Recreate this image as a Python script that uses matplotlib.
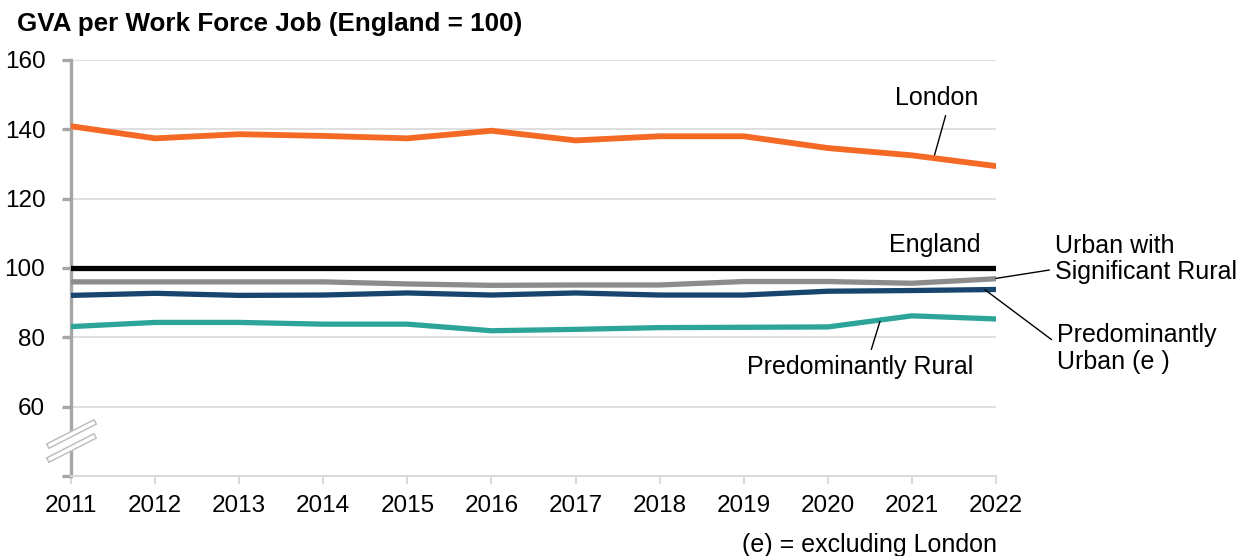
import matplotlib
matplotlib.use("Agg")
import matplotlib.pyplot as plt
import matplotlib.patheffects as pe
from matplotlib.patches import Polygon

plt.rcParams['font.family'] = ['Liberation Sans', 'DejaVu Sans']

# data
years = [2011, 2012, 2013, 2014, 2015, 2016, 2017, 2018, 2019, 2020, 2021, 2022]
london = [140.9, 137.4, 138.6, 138.1, 137.4, 139.6, 136.8, 138.0, 138.0, 134.6, 132.5, 129.4]
england = [100] * 12
urban_sig_rural = [96.0, 96.0, 96.0, 96.0, 95.4, 95.0, 95.1, 95.1, 96.1, 96.1, 95.6, 96.9]
pred_urban = [92.1, 92.7, 92.1, 92.2, 92.8, 92.2, 92.8, 92.2, 92.2, 93.3, 93.5, 93.8]
pred_rural = [83.1, 84.3, 84.3, 83.8, 83.8, 81.9, 82.3, 82.8, 82.9, 83.0, 86.2, 85.3]

y_ticks = [40, 60, 80, 100, 120, 140, 160]
y_labels = ['', '60', '80', '100', '120', '140', '160']

fig = plt.figure(figsize=(12.47, 5.56), dpi=100)
ax = fig.add_axes([71 / 1247, 80 / 556, 925 / 1247, 416 / 556])

grid_col = '#D9D9D9'
ax.plot(years, pred_rural, color='#2CA498', lw=3.8, solid_capstyle='round', zorder=3)
ax.plot(years, pred_urban, color='#17456E', lw=3.8, solid_capstyle='round', zorder=3)
ax.plot(years, urban_sig_rural, color='#8C8C8C', lw=3.8, solid_capstyle='round', zorder=3)
ax.plot(years, england, color='black', lw=3.8, solid_capstyle='round', zorder=4)
ax.plot(years, london, color='#F46A25', lw=4.2, solid_capstyle='round', zorder=4)

ax.set_xlim(2011, 2022)
ax.set_ylim(40, 160)
ax.set_xticks(years)
ax.set_xticklabels([str(y) for y in years])
ax.set_yticks(y_ticks)
ax.set_yticklabels(y_labels)
ax.grid(axis='y', color=grid_col, lw=1.2, zorder=0)
ax.set_axisbelow(True)

for s in ['top', 'right']:
    ax.spines[s].set_visible(False)
ax.spines['left'].set_color('#A6A6A6')
ax.spines['left'].set_linewidth(2.4)
ax.spines['bottom'].set_color(grid_col)
ax.spines['bottom'].set_linewidth(1.4)
ax.tick_params(axis='y', length=6.5, width=2.4, color='#A6A6A6', pad=12, labelsize=17.5)
ax.tick_params(axis='x', length=5.5, width=1.4, color=grid_col, pad=8, labelsize=17.5)

# axis break on the y axis
br = [(-0.0227, 0.0409), (0.0238, 0.0938), (0.0238, 0.1274), (-0.0227, 0.0745)]
ax.add_patch(Polygon(br, closed=True, transform=ax.transAxes, facecolor='white',
                     edgecolor='none', clip_on=False, zorder=5))
for (x0, y0), (x1, y1) in [((-0.0227, 0.0409), (0.0238, 0.0938)), ((-0.0227, 0.0745), (0.0238, 0.1274))]:
    ax.plot([x0, x1], [y0, y1], transform=ax.transAxes, color='white', lw=2.4,
            clip_on=False, zorder=6,
            path_effects=[pe.Stroke(linewidth=4.6, foreground='#BFBFBF'), pe.Normal()])

# series labels
txt = dict(fontsize=18, color='black')
line_kw = dict(arrowstyle='-', color='black', lw=1.0, shrinkA=2, shrinkB=0)
ax.annotate('London', xy=(2021.26, 131.8), xytext=(2021.30, 149.0), ha='center', va='center',
            arrowprops=dict(relpos=(0.62, 0), **line_kw), **txt)
ax.text(2021.27, 106.6, 'England', ha='center', va='center', **txt)
ax.annotate('Urban with\nSignificant Rural', xy=(2022, 97.0), xytext=(2022.7, 102.6),
            ha='left', va='center', linespacing=1.15,
            arrowprops=dict(relpos=(0, 0.3), **line_kw), annotation_clip=False, **txt)
ax.annotate('Predominantly\nUrban (e )', xy=(2021.87, 93.7), xytext=(2022.72, 76.8),
            ha='left', va='center', linespacing=1.15,
            arrowprops=dict(relpos=(0, 0.6), **line_kw), annotation_clip=False, **txt)
ax.annotate('Predominantly Rural', xy=(2020.62, 84.6), xytext=(2020.39, 71.5),
            ha='center', va='center',
            arrowprops=dict(relpos=(0.54, 1), **line_kw), **txt)

fig.text(17 / 1247, 1 - 24 / 556, 'GVA per Work Force Job (England = 100)',
         fontsize=18.7, fontweight='bold', ha='left', va='center')
fig.text(997 / 1247, 1 - 545 / 556, '(e) = excluding London', fontsize=18,
         ha='right', va='center')

fig.savefig('out.png', dpi=100)
